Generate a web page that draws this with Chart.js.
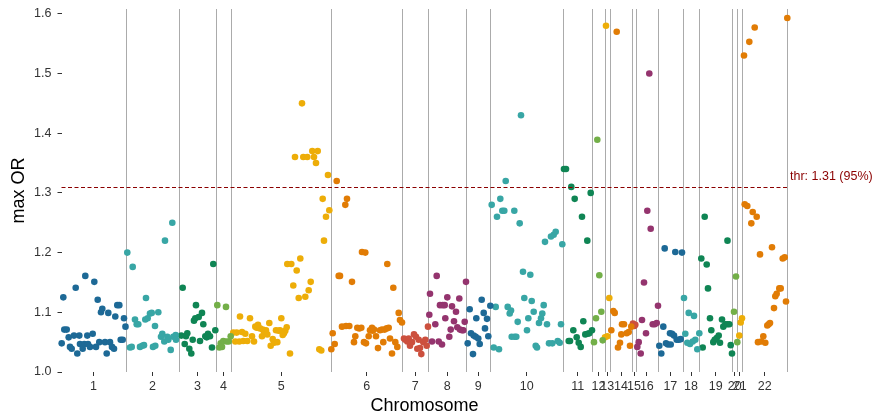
<!DOCTYPE html>
<html>
<head>
<meta charset="utf-8">
<script src="https://cdn.jsdelivr.net/npm/chart.js@4"></script>
<style>
  html, body { margin: 0; padding: 0; background: #fff; }
  #wrap { width: 878px; height: 419px; }
</style>
</head>
<body>
<div id="wrap"><canvas id="manhattan" width="878" height="419"></canvas></div>
<script>
// chromosome labels and cumulative end positions along the genome axis
const chromNames = ['1', '2', '3', '4', '5', '6', '7', '8', '9', '10', '11',
  '12', '13', '14', '15', '16', '17', '18', '19', '20', '21', '22'];
const chromEnds = [64.2, 117.8, 154.2, 169.8, 269.8, 340.8, 366.8, 404.8, 428.8, 501.5, 530.8,
  543.2, 548.2, 570.8, 574.2, 596.5, 621.2, 637.8, 670.8, 675.8, 680.8, 725.8];

const yTicks = [1.0, 1.1, 1.2, 1.3, 1.4, 1.5, 1.6];
const threshold = 1.31;
const thresholdLabel = 'thr: 1.31 (95%)';

// [cumulative position, max OR] per chromosome
const chr1 = [[0.2, 1.048], [1.8, 1.125], [2.8, 1.071], [5.2, 1.071], [7.2, 1.058], [8.5, 1.042],
  [10.2, 1.039], [12.5, 1.061], [14.2, 1.141], [15.8, 1.031], [17.8, 1.061], [18.5, 1.047],
  [21.2, 1.039], [22.8, 1.047], [23.8, 1.161], [25.8, 1.061], [26.5, 1.047], [28.5, 1.042],
  [31.2, 1.064], [32.8, 1.151], [34.5, 1.042], [36.2, 1.121], [37.8, 1.050], [39.5, 1.100],
  [40.8, 1.106], [43.5, 1.050], [45.2, 1.031], [46.8, 1.099], [48.5, 1.050], [50.5, 1.042],
  [52.5, 1.039], [53.8, 1.093], [55.8, 1.112], [57.8, 1.112], [59.2, 1.054], [61.2, 1.054],
  [62.5, 1.090], [64.0, 1.076]];
const chr2 = [[65.8, 1.200], [68.5, 1.041], [70.2, 1.042], [71.2, 1.176], [73.5, 1.088], [75.2, 1.080],
  [76.8, 1.080], [78.5, 1.042], [80.8, 1.044], [82.5, 1.045], [83.8, 1.088], [84.5, 1.124],
  [86.2, 1.090], [88.5, 1.098], [90.2, 1.099], [91.5, 1.042], [93.5, 1.077], [93.8, 1.044],
  [96.8, 1.100], [99.5, 1.059], [100.8, 1.064], [102.8, 1.051], [103.5, 1.220], [105.8, 1.059],
  [106.8, 1.054], [109.2, 1.037], [110.8, 1.250], [111.8, 1.059], [114.2, 1.062], [114.5, 1.054]];
const chr3 = [[119.8, 1.061], [121.2, 1.141], [123.2, 1.047], [124.5, 1.060], [125.8, 1.065],
  [127.8, 1.039], [129.8, 1.031], [131.2, 1.054], [132.5, 1.086], [133.8, 1.090], [134.5, 1.112],
  [137.2, 1.092], [138.5, 1.052], [140.5, 1.099], [141.8, 1.080], [143.8, 1.060], [145.2, 1.058],
  [146.5, 1.064], [148.5, 1.060], [150.5, 1.041], [151.8, 1.181], [153.8, 1.070]];
const chr4 = [[155.8, 1.112], [157.8, 1.041], [159.2, 1.048], [160.5, 1.042], [161.8, 1.052],
  [164.5, 1.109], [165.0, 1.051], [167.2, 1.051], [169.2, 1.060]];
const chr5 = [[171.8, 1.066], [173.8, 1.051], [175.2, 1.066], [177.8, 1.051], [178.5, 1.093],
  [180.5, 1.067], [181.8, 1.052], [183.8, 1.064], [185.8, 1.052], [188.5, 1.090], [190.5, 1.060],
  [192.5, 1.051], [193.8, 1.076], [195.2, 1.074], [196.5, 1.079], [198.5, 1.073], [200.5, 1.060],
  [201.2, 1.071], [202.5, 1.068], [204.5, 1.070], [205.8, 1.063], [207.8, 1.082], [209.2, 1.044],
  [211.2, 1.055], [212.5, 1.049], [214.5, 1.070], [215.8, 1.050], [217.2, 1.069], [218.5, 1.070],
  [219.8, 1.090], [221.2, 1.062], [222.5, 1.065], [223.8, 1.069], [225.2, 1.075], [225.8, 1.181],
  [228.5, 1.031], [229.8, 1.181], [231.8, 1.145], [233.5, 1.360], [235.2, 1.170], [237.2, 1.124],
  [238.8, 1.190], [240.5, 1.450], [241.8, 1.360], [243.8, 1.126], [245.8, 1.360], [247.2, 1.137],
  [249.2, 1.151], [250.8, 1.370], [252.5, 1.360], [254.5, 1.350], [256.2, 1.370], [257.8, 1.038],
  [259.8, 1.036], [261.2, 1.290], [262.5, 1.220], [264.5, 1.260], [266.5, 1.330], [267.8, 1.271]];
const chr6 = [[269.8, 1.038], [271.2, 1.065], [273.2, 1.047], [275.2, 1.320], [277.2, 1.161],
  [278.5, 1.161], [280.5, 1.076], [283.8, 1.280], [284.5, 1.077], [285.5, 1.290], [287.8, 1.077],
  [290.5, 1.151], [292.5, 1.050], [293.8, 1.060], [295.8, 1.074], [297.8, 1.073], [299.8, 1.074],
  [300.5, 1.201], [302.5, 1.050], [303.8, 1.200], [304.5, 1.048], [307.2, 1.060], [308.5, 1.070],
  [310.5, 1.074], [311.2, 1.069], [312.5, 1.071], [314.5, 1.060], [316.5, 1.040], [318.5, 1.070],
  [320.5, 1.071], [321.8, 1.050], [323.2, 1.071], [325.2, 1.073], [325.8, 1.181], [327.2, 1.074],
  [328.5, 1.056], [330.5, 1.031], [331.8, 1.141], [333.8, 1.050], [335.8, 1.042], [337.2, 1.099],
  [338.5, 1.087], [340.5, 1.083]];
const chr7 = [[342.5, 1.056], [343.8, 1.054], [345.8, 1.051], [347.2, 1.056], [348.5, 1.044],
  [350.5, 1.050], [352.5, 1.063], [354.5, 1.059], [355.8, 1.039], [357.2, 1.054], [358.5, 1.040],
  [359.8, 1.030], [361.8, 1.050], [363.8, 1.054], [365.2, 1.044], [366.5, 1.076]];
const chr8 = [[367.8, 1.096], [368.5, 1.131], [370.5, 1.051], [373.8, 1.080], [375.2, 1.161],
  [377.2, 1.051], [378.5, 1.112], [380.5, 1.046], [381.2, 1.112], [383.2, 1.112], [383.8, 1.090],
  [385.8, 1.125], [387.8, 1.059], [389.2, 1.071], [390.5, 1.110], [392.5, 1.085], [394.5, 1.101],
  [395.8, 1.075], [397.8, 1.123], [398.5, 1.071], [400.5, 1.070], [401.8, 1.070], [403.2, 1.084],
  [404.5, 1.151]];
const chr9 = [[406.2, 1.048], [408.2, 1.105], [409.5, 1.065], [411.5, 1.030], [412.2, 1.061],
  [414.2, 1.059], [414.8, 1.090], [416.8, 1.056], [418.2, 1.047], [420.2, 1.121], [422.2, 1.099],
  [423.5, 1.073], [425.5, 1.089], [426.8, 1.060], [428.8, 1.111]];
const chr10 = [[430.2, 1.280], [432.2, 1.041], [434.2, 1.109], [435.5, 1.260], [437.5, 1.038],
  [438.8, 1.290], [440.8, 1.270], [442.8, 1.270], [444.2, 1.320], [446.2, 1.109], [448.2, 1.098],
  [449.5, 1.103], [450.2, 1.059], [452.8, 1.270], [453.2, 1.059], [454.8, 1.059], [456.2, 1.084],
  [458.2, 1.249], [459.5, 1.430], [461.5, 1.168], [462.8, 1.124], [465.5, 1.070], [466.8, 1.090],
  [468.8, 1.163], [470.2, 1.119], [472.2, 1.101], [474.2, 1.044], [475.5, 1.041], [477.5, 1.082],
  [479.5, 1.090], [480.8, 1.098], [482.2, 1.112], [483.5, 1.218], [485.5, 1.080], [487.5, 1.048],
  [489.5, 1.227], [490.8, 1.048], [492.2, 1.230], [494.2, 1.235], [496.2, 1.052], [498.2, 1.049],
  [499.5, 1.080], [500.8, 1.214]];
const chr11 = [[502.5, 1.340], [504.5, 1.340], [507.2, 1.052], [508.5, 1.052], [509.8, 1.310],
  [511.8, 1.070], [513.2, 1.290], [515.2, 1.058], [517.2, 1.049], [519.2, 1.042], [520.5, 1.260],
  [521.8, 1.085], [523.8, 1.063], [525.8, 1.220], [526.2, 1.064], [527.8, 1.065], [529.2, 1.300],
  [530.5, 1.070]];
const chr12 = [[532.5, 1.050], [534.5, 1.090], [535.8, 1.389], [537.8, 1.162], [539.8, 1.101],
  [541.2, 1.053]];
const chr13 = [[543.5, 1.058], [544.5, 1.580], [545.8, 1.060], [547.8, 1.124]];
const chr14 = [[549.8, 1.070], [551.8, 1.102], [553.2, 1.099], [555.2, 1.570], [556.5, 1.041],
  [558.5, 1.049], [559.8, 1.063], [560.5, 1.080], [562.5, 1.080], [565.2, 1.065], [567.2, 1.067],
  [568.5, 1.044], [569.8, 1.076]];
const chr15 = [[571.5, 1.081], [572.8, 1.077], [573.8, 1.079]];
const chr16 = [[575.8, 1.042], [577.2, 1.050], [579.2, 1.031], [580.5, 1.087], [582.5, 1.150],
  [584.5, 1.065], [585.8, 1.270], [587.8, 1.500], [589.2, 1.240], [591.2, 1.080], [593.2, 1.080],
  [595.2, 1.082], [596.5, 1.111]];
const chr17 = [[597.8, 1.044], [599.8, 1.031], [601.8, 1.076], [603.2, 1.207], [604.5, 1.048],
  [606.5, 1.046], [608.5, 1.065], [609.2, 1.046], [610.5, 1.064], [612.5, 1.061], [613.8, 1.201],
  [615.2, 1.054], [617.2, 1.054], [619.2, 1.055], [620.5, 1.200]];
const chr18 = [[622.5, 1.124], [623.8, 1.064], [625.8, 1.049], [627.2, 1.099], [628.5, 1.047],
  [631.2, 1.051], [632.5, 1.094], [633.8, 1.054], [635.8, 1.038], [637.8, 1.065]];
const chr19 = [[639.8, 1.190], [641.2, 1.041], [643.2, 1.260], [645.2, 1.180], [646.5, 1.140],
  [648.5, 1.090], [649.8, 1.070], [651.8, 1.050], [653.2, 1.054], [655.2, 1.057], [657.2, 1.061],
  [658.5, 1.049], [660.5, 1.088], [661.8, 1.076], [663.8, 1.080], [665.8, 1.080], [666.0, 1.220],
  [667.8, 1.080], [669.2, 1.045], [670.5, 1.031]];
const chr20 = [[672.5, 1.101], [674.5, 1.160], [675.8, 1.050]];
const chr21 = [[677.8, 1.061], [679.2, 1.083], [680.5, 1.090]];
const chr22 = [[682.5, 1.530], [683.2, 1.281], [685.8, 1.278], [687.8, 1.553], [689.8, 1.249],
  [691.2, 1.268], [693.2, 1.577], [695.2, 1.260], [696.5, 1.050], [698.5, 1.197], [699.8, 1.051],
  [701.8, 1.060], [703.8, 1.049], [705.8, 1.078], [707.2, 1.080], [708.5, 1.082], [710.5, 1.209],
  [712.5, 1.107], [713.8, 1.127], [715.2, 1.131], [717.8, 1.140], [719.2, 1.140], [721.2, 1.190],
  [723.2, 1.192], [724.5, 1.118], [725.8, 1.593]];

const chromData = [chr1, chr2, chr3, chr4, chr5, chr6, chr7, chr8, chr9, chr10, chr11,
  chr12, chr13, chr14, chr15, chr16, chr17, chr18, chr19, chr20, chr21, chr22];

// colours cycle every 8 chromosomes
const palette = ['#1D6996', '#38A6A5', '#0F8554', '#73AF48', '#EDAD08', '#E17C05', '#CC503E', '#94346E'];

const chromStarts = [0].concat(chromEnds.slice(0, -1));
const chromMids = chromEnds.map((e, i) => (chromStarts[i] + e) / 2);

const FONT = "'Liberation Sans', Arial, Helvetica, sans-serif";

// boundary lines between chromosomes, plus the threshold line and its label
const guides = {
  id: 'guides',
  beforeDatasetsDraw(chart) {
    const { ctx, chartArea, scales } = chart;
    ctx.save();
    ctx.strokeStyle = 'rgba(150,150,150,0.8)';
    ctx.lineWidth = 1;
    chromEnds.forEach(e => {
      const x = Math.round(scales.x.getPixelForValue(e)) + 0.5;
      ctx.beginPath();
      ctx.moveTo(x, chartArea.top);
      ctx.lineTo(x, chartArea.bottom);
      ctx.stroke();
    });
    ctx.restore();
  },
  afterDatasetsDraw(chart) {
    const { ctx, chartArea, scales } = chart;
    const y = Math.round(scales.y.getPixelForValue(threshold)) + 0.5;
    ctx.save();
    ctx.strokeStyle = '#8B0000';
    ctx.lineWidth = 1;
    ctx.setLineDash([4, 2.5]);
    ctx.beginPath();
    ctx.moveTo(chartArea.left, y);
    ctx.lineTo(chartArea.right, y);
    ctx.stroke();
    ctx.setLineDash([]);
    ctx.fillStyle = '#8B0000';
    ctx.font = '12.5px ' + FONT;
    ctx.textAlign = 'left';
    ctx.textBaseline = 'middle';
    ctx.fillText(thresholdLabel, chartArea.right + 2.5, y - 10.5);
    ctx.restore();
  }
};

new Chart(document.getElementById('manhattan'), {
  type: 'scatter',
  data: {
    datasets: chromData.map((pts, i) => ({
      label: 'chr' + chromNames[i],
      data: pts.map(p => ({ x: p[0], y: p[1] })),
      backgroundColor: palette[i % palette.length],
      borderWidth: 0,
      pointRadius: 3.3,
      pointHoverRadius: 4.5,
      clip: false
    }))
  },
  options: {
    responsive: false,
    animation: false,
    devicePixelRatio: 1,
    layout: { padding: { top: 9, right: 90.5, bottom: 0, left: 0 } },
    plugins: {
      legend: { display: false },
      tooltip: {
        callbacks: {
          label: c => c.dataset.label + ': ' + c.parsed.y.toFixed(3)
        }
      }
    },
    scales: {
      x: {
        type: 'linear',
        min: 0,
        max: 726,
        afterFit(s) { s.height = 47; s.paddingLeft = 0; s.paddingRight = 0; },
        afterBuildTicks(s) { s.ticks = chromMids.map(v => ({ value: v })); },
        ticks: {
          autoSkip: false,
          maxRotation: 0,
          minRotation: 0,
          padding: 3,
          color: '#333',
          font: { family: FONT, size: 12.5 },
          callback: (v, i) => chromNames[i]
        },
        grid: { drawOnChartArea: false, drawTicks: true, tickLength: 4, tickColor: '#333' },
        border: { display: false },
        title: {
          display: true,
          text: 'Chromosome',
          color: '#000',
          font: { family: FONT, size: 18 },
          padding: { top: 0, bottom: 2.5 }
        }
      },
      y: {
        min: 1.0,
        max: 1.608,
        // tick labels may overhang the plot edges; keep the plot box fixed
        afterFit(s) { s.width = 61.5; s.paddingTop = 0; s.paddingBottom = 0; },
        afterBuildTicks(s) { s.ticks = yTicks.map(v => ({ value: v })); },
        ticks: {
          padding: 6,
          color: '#333',
          font: { family: FONT, size: 12.5 },
          callback: v => v.toFixed(1)
        },
        grid: { drawOnChartArea: false, drawTicks: true, tickLength: 4, tickColor: '#333' },
        border: { display: false },
        title: {
          display: true,
          text: 'max OR',
          color: '#000',
          font: { family: FONT, size: 18 },
          padding: { top: 8, bottom: 0 }
        }
      }
    }
  },
  plugins: [guides]
});
</script>
</body>
</html>
